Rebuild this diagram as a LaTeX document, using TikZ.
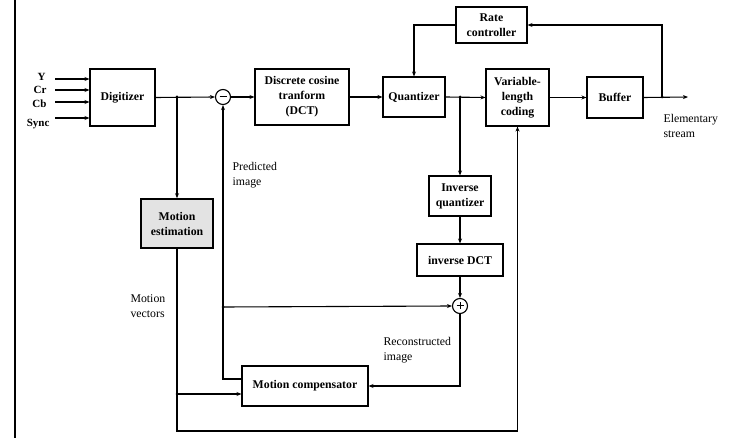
\documentclass[tikz,border=0pt]{standalone}
\usepackage{fontspec}
\setmainfont{Liberation Serif}
\usetikzlibrary{arrows.meta,calc}
\begin{document}
\begin{tikzpicture}[x=1pt,y=-1pt,
  line width=1.1pt,
  block/.style={draw,rectangle,inner sep=0pt,align=center,
    font=\fontsize{11.8}{15}\selectfont\bfseries},
  sumnode/.style={draw,circle,minimum size=15pt,inner sep=0pt},
  lbl/.style={font=\fontsize{11.8}{15}\selectfont,align=left,anchor=west,inner sep=0pt},
  inlbl/.style={font=\fontsize{11}{12}\selectfont\bfseries,anchor=east,inner sep=0pt},
  arr/.style={-{Stealth[length=5pt,width=4pt]}},
  dot/.style={circle,fill,inner sep=0pt,minimum size=3pt}]
\useasboundingbox (0,0) rectangle (731,438);

% page edge rule
\draw[line width=2pt] (15,0) -- (15,438);

% blocks
\node[block,minimum width=65pt,minimum height=57pt] (dig) at (122.5,97.5) {Digitizer};
\node[sumnode] (minus) at (223,97) {};
\draw[line width=1pt] ($(minus)+(-3.5,0)$) -- ($(minus)+(3.5,0)$);
\node[block,minimum width=94pt,minimum height=56pt] (dct) at (302,97) {Discrete cosine\\tranform\\(DCT)};
\node[block,minimum width=62pt,minimum height=40pt] (quant) at (414,97) {Quantizer};
\node[block,minimum width=71pt,minimum height=36pt] (rate) at (491.5,25) {Rate\\controller};
\node[block,minimum width=63pt,minimum height=57pt] (vlc) at (517.5,97.5) {Variable-\\length\\coding};
\node[block,minimum width=56pt,minimum height=41pt] (buf) at (615,97.5) {Buffer};
\node[block,minimum width=72pt,minimum height=49pt,fill=gray!22,line width=1.6pt] (me) at (177,223.5) {Motion\\estimation};
\node[block,minimum width=62pt,minimum height=40pt] (iq) at (460,196) {Inverse\\quantizer};
\node[block,minimum width=86pt,minimum height=32pt] (idct) at (460,260) {inverse DCT};
\node[sumnode] (plus) at (460,306) {};
\draw[line width=1pt] ($(plus)+(-3.5,0)$) -- ($(plus)+(3.5,0)$)
  ($(plus)+(0,-3.5)$) -- ($(plus)+(0,3.5)$);
\node[block,minimum width=126pt,minimum height=40pt] (mc) at (305,386) {Motion compensator};

% input signals
\coordinate (iy) at (55,79);
\coordinate (icr) at (55,90);
\coordinate (icb) at (55,102);
\coordinate (isync) at (55,118);
\node[inlbl] (ly) at (46,77) {Y};
\node[inlbl] (lcr) at (47,90) {Cr};
\node[inlbl] (lcb) at (47,104) {Cb};
\node[inlbl] (lsync) at (50,124) {Sync};
\draw[arr] (iy) -- (iy -| dig.west);
\draw[arr] (icr) -- (icr -| dig.west);
\draw[arr] (icb) -- (icb -| dig.west);
\draw[arr] (isync) -- (isync -| dig.west);

% junction points
\coordinate (jdig) at (177,97);
\coordinate (jq) at (460,97);
\coordinate (jout) at (662,97);
\coordinate (jpred) at (223,307);
\coordinate (jmv) at (177,394);
\coordinate (out) at (688,97);
\foreach \j in {jdig,jq,jout,jpred,jmv} \node[dot] at (\j) {};

% forward path
\draw[arr] (dig.east) -- (minus.west);
\draw[arr] (minus.east) -- (dct.west);
\draw[arr] (dct.east) -- (quant.west);
\draw[arr] (quant.east) -- (vlc.west);
\draw[arr] (vlc.east) -- (buf.west);
\draw[arr] (buf.east) -- (out);

% rate control loop
\draw[arr] (jout) |- (rate.east);
\draw[arr] (rate.west) -| (quant.north);

% reconstruction loop
\draw[arr] (jq) -- (iq.north);
\draw[arr] (iq.south) -- (idct.north);
\draw[arr] (idct.south) -- (plus.north);
\draw[arr] (plus.south) |- (mc.east);
\draw[arr] ([yshift=7pt]mc.west) -| (minus.south);
\draw[arr] (jpred) -- (plus.west);

% motion estimation
\draw[arr] (jdig) -- (me.north);
\draw[arr] (me.south) |- (vlc.south |- 0,431) -- (vlc.south);
\draw[arr] (jmv) -- ([yshift=-8pt]mc.west);

% labels
\node[lbl] (lpred) at (232,175.5) {Predicted\\image};
\node[lbl] (lmv) at (130,306) {Motion\\vectors};
\node[lbl] (lrec) at (383,350.5) {Reconstructed\\image};
\node[lbl] (lout) at (663,125.5) {Elementary\\stream};
\end{tikzpicture}
\end{document}
